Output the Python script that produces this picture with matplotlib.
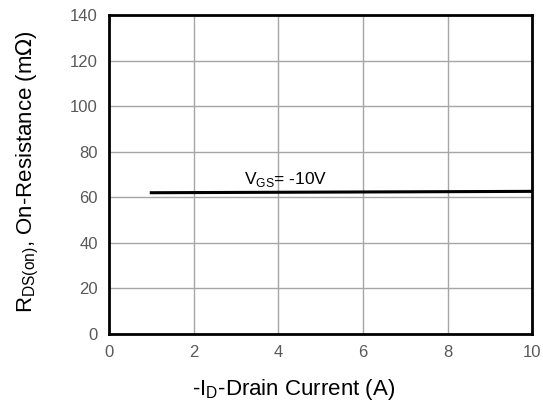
import matplotlib.pyplot as plt

plt.rcParams["font.family"] = ["Liberation Sans", "DejaVu Sans"]

current_a = [1, 10]
rds_on_mohm = [62.0, 62.6]
x_ticks = [0, 2, 4, 6, 8, 10]
y_ticks = [0, 20, 40, 60, 80, 100, 120, 140]

fig = plt.figure(figsize=(5.43, 4.05), dpi=100)
ax = fig.add_axes([0.2007, 0.1753, 0.7793, 0.7877])

ax.plot(current_a, rds_on_mohm, color="black", linewidth=2.2)
ax.text(3.2, 65.8, r"V$_{\mathregular{GS}}$= -10V", fontsize=12.5, color="black")

ax.set_xlim(0, 10)
ax.set_ylim(0, 140)
ax.set_xticks(x_ticks)
ax.set_yticks(y_ticks)
ax.grid(True, color="#a6a6a6", linewidth=1)
ax.tick_params(length=0, labelsize=12, labelcolor="#595959", pad=8)
for s in ax.spines.values():
    s.set_linewidth(2)
    s.set_color("black")

ax.set_xlabel(r"-I$_{\mathregular{D}}$-Drain Current (A)", fontsize=16)
ax.xaxis.set_label_coords(0.437, -0.135)
ax.set_ylabel(r"R$_{\mathregular{DS(on)}}$, On-Resistance (m$\Omega$)", fontsize=16)
ax.yaxis.set_label_coords(-0.16, 0.51)

fig.savefig("out.png", dpi=100)
